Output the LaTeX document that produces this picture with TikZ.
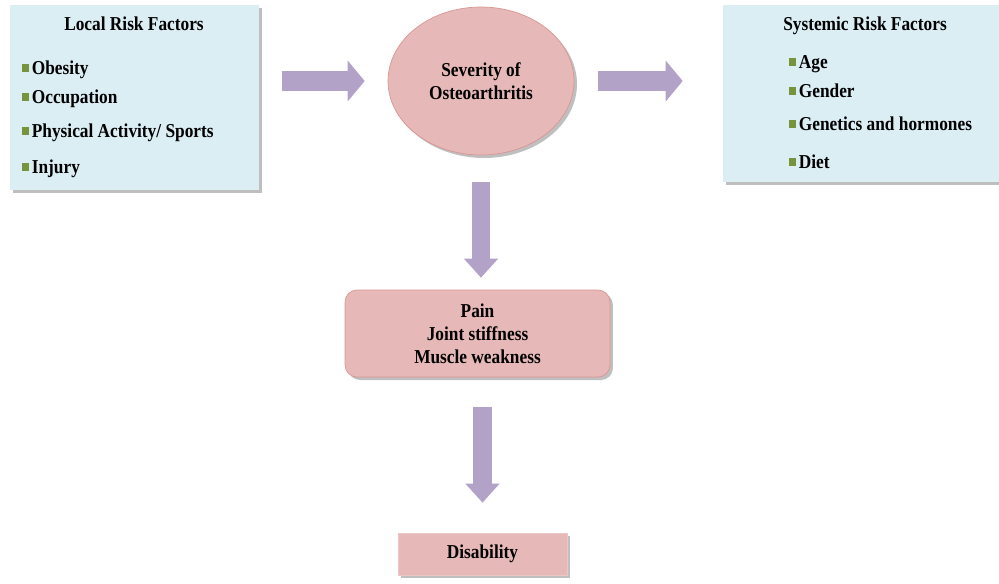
\documentclass[tikz,border=0pt]{standalone}
\usepackage{fontspec}
\setmainfont[FakeStretch=0.88]{Liberation Serif}
\usetikzlibrary{arrows.meta,shadows,shapes.geometric}
\definecolor{boxblue}{HTML}{DBEEF4}
\definecolor{boxpink}{HTML}{E6B9B8}
\definecolor{pinkline}{HTML}{D99694}
\definecolor{lilac}{HTML}{B3A2C7}
\definecolor{bulgreen}{HTML}{77933C}
\newcommand{\bul}{{\color{bulgreen}\rule[1.2pt]{3.8pt}{4.6pt}}\hspace{1.6pt}}
\tikzset{shade/.style={drop shadow={shadow xshift=0.06cm, shadow yshift=-0.06cm, fill=black, opacity=0.25}}}
\tikzset{factorbox/.style={draw=none, fill=boxblue, inner sep=0pt, shade}}
\tikzset{pinkbox/.style={draw=pinkline, thin, fill=boxpink, inner sep=0pt, align=center, shade}}
\tikzset{head/.style={anchor=base, inner sep=0pt}}
\tikzset{item/.style={anchor=base west, inner sep=0pt}}
\tikzset{harrow/.style={draw=lilac, line width=0.4cm, -{Triangle[width=0.8cm, length=0.34cm]}}}
\tikzset{varrow/.style={draw=lilac, line width=0.37cm, -{Triangle[width=0.66cm, length=0.38cm]}}}

\begin{document}
\begin{tikzpicture}[x=0.02cm, y=-0.02cm, font={\bfseries\fontsize{11.2}{13}\selectfont}]

\useasboundingbox (0,0) rectangle (999,583);

% risk factor boxes
\node[factorbox, minimum width=4.98cm, minimum height=3.7cm] (local) at (134.5,97.5) {};
\node[head] (localtitle) at (134,30) {Local Risk Factors};
\node[item] (obesity) at (22,74) {\bul Obesity};
\node[item] (occupation) at (22,103) {\bul Occupation};
\node[item] (activity) at (22,137) {\bul Physical Activity/ Sports};
\node[item] (injury) at (22,173) {\bul Injury};

\node[factorbox, minimum width=5.64cm, minimum height=3.54cm] (sys) at (864,93.5) {};
\node[head] (systitle) at (865,30) {Systemic Risk Factors};
\node[item] (age) at (789,68) {\bul Age};
\node[item] (gender) at (789,97) {\bul Gender};
\node[item] (genetics) at (789,130) {\bul Genetics and hormones};
\node[item] (diet) at (789,168) {\bul Diet};

% middle column
\node[pinkbox, ellipse, minimum width=3.72cm, minimum height=2.96cm] (sev) at (481,81) {Severity of\\Osteoarthritis};
\node[pinkbox, rounded corners=0.24cm, minimum width=5.3cm, minimum height=1.74cm] (pain) at (477.5,333.5) {Pain\\Joint stiffness\\Muscle weakness};
\node[pinkbox, draw=boxpink!80!white, minimum width=3.38cm, minimum height=0.84cm] (dis) at (482.5,554) {Disability};

\draw[harrow, shorten <=0.46cm, shorten >=0.46cm] (local.east |- sev.west) -- (sev.west);
\draw[harrow, shorten <=0.48cm, shorten >=0.8cm] (sev.east) -- (sys.west |- sev.east);
\draw[varrow, shorten <=0.54cm, shorten >=0.24cm] (sev.south) -- (sev.south |- pain.north);
\draw[varrow, shorten <=0.6cm, shorten >=0.6cm] (dis.north |- pain.south) -- (dis.north);

\end{tikzpicture}
\end{document}
